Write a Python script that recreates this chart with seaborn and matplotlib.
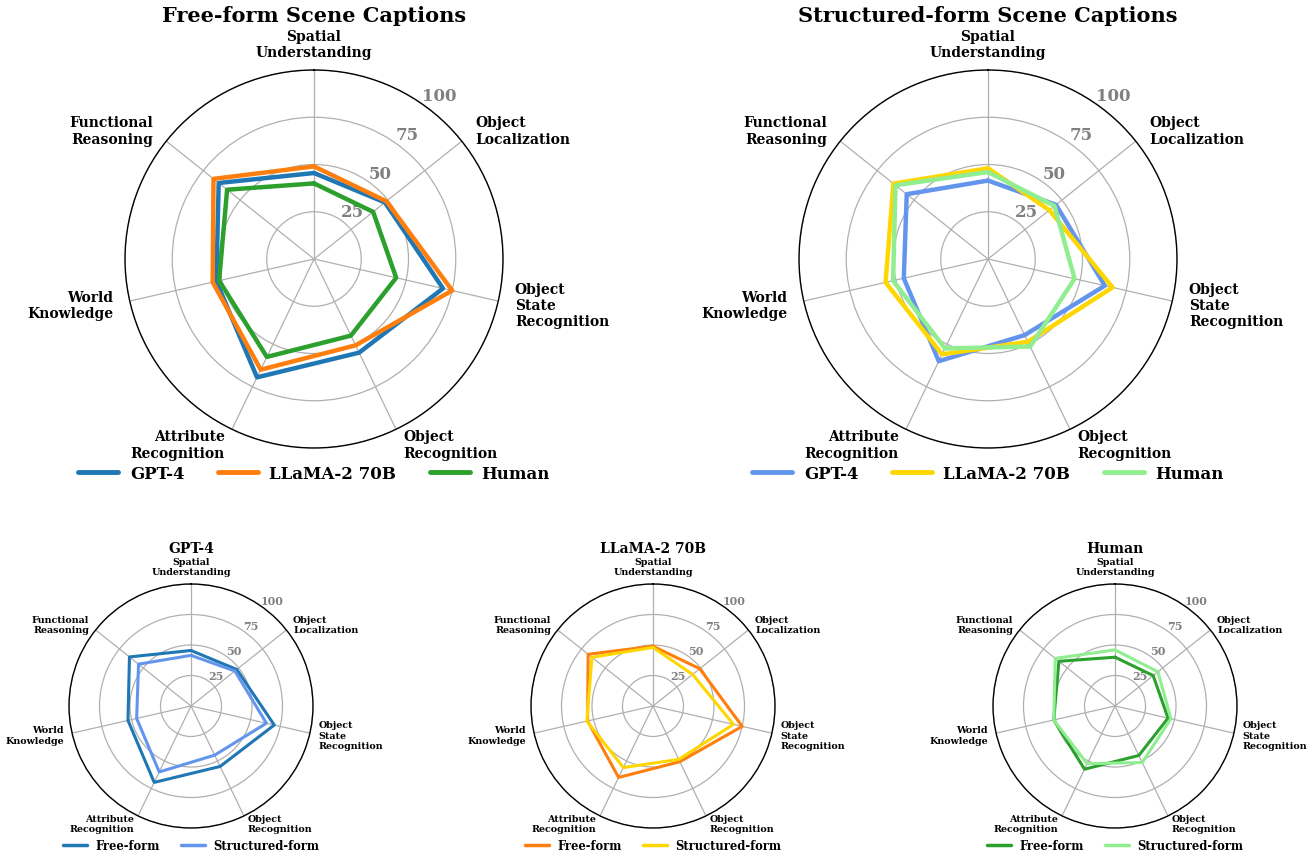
import numpy as np
import pandas as pd
import matplotlib
matplotlib.use("Agg")
import matplotlib.pyplot as plt
import seaborn as sns
from matplotlib.lines import Line2D

sns.set_theme(style="white")
plt.rcParams['font.family'] = ['DejaVu Serif']
plt.rcParams['font.weight'] = 'bold'
plt.rcParams['text.color'] = 'black'

categories = ["Spatial\nUnderstanding", "Object\nLocalization", "Object\nState\nRecognition",
              "Object\nRecognition", "Attribute\nRecognition", "World\nKnowledge",
              "Functional\nReasoning"]

gpt4_free = [45.5, 48, 70, 55, 69.5, 53, 64.5]
llama_free = [49, 49, 75, 50.7, 65, 55, 68]
human_free = [40, 40, 44.6, 45, 57.5, 51.5, 58.8]

gpt4_struct = [41.5, 46, 63.4, 44.7, 60, 45.7, 55]
llama_struct = [48, 41.5, 67.6, 48.6, 56, 55.6, 64]
human_struct = [46, 45, 47, 51.4, 52.5, 51.5, 62.6]

rticks = [25, 50, 75, 100]
rtick_labels = ["25", "50", "75", "100"]

N = len(categories)
angles = np.linspace(0, 2 * np.pi, N, endpoint=False)

fig = plt.figure(figsize=(13.13, 8.53), dpi=100)


def setup(ax, cat_size, r_size, off, top_off):
    ax.set_theta_offset(np.pi / 2)
    ax.set_theta_direction(-1)
    ax.set_ylim(0, 100)
    ax.set_xticks(angles)
    ax.set_xticklabels([])
    for lab, ang in zip(categories, angles):
        phi = np.pi / 2 - ang
        if np.isclose(ang, 0):
            ha, va = 'center', 'bottom'
            dx, dy = 0, top_off
        else:
            ha = 'left' if ang < np.pi else 'right'
            va = 'center'
            dx, dy = off * np.cos(phi), off * np.sin(phi)
        ax.annotate(lab, xy=(ang, 100), xycoords='data', xytext=(dx, dy),
                    textcoords='offset pixels', ha=ha, va=va,
                    fontsize=cat_size, fontweight='bold', color='black',
                    annotation_clip=False)
    ax.set_yticks(rticks)
    ax.set_yticklabels(rtick_labels, fontsize=r_size, fontweight='bold', color='grey')
    ax.set_rlabel_position(35)
    ax.grid(True, color='#b0b0b0', linewidth=0.9)
    ax.spines['polar'].set_color('black')
    ax.spines['polar'].set_linewidth(1.0)
    ax.set_facecolor('white')


def draw(ax, values, color, lw, label):
    th = list(angles) + [angles[0]]
    vv = list(values) + [values[0]]
    df = pd.DataFrame({"theta": th, "value": vv})
    sns.lineplot(data=df, x="theta", y="value", ax=ax, sort=False, color=color,
                 linewidth=lw, label=label, legend=False, estimator=None)
    ax.set_xlabel("")
    ax.set_ylabel("")


W, H = 1313, 853
def rect(cx, cy, r):
    return [(cx - r) / W, 1 - (cy + r) / H, 2 * r / W, 2 * r / H]

# ---- top panels ----
R_top = 189
top_specs = [
    (314, "Free-form Scene Captions",
     [(gpt4_free, '#1f77b4', 'GPT-4'), (llama_free, '#ff7f0e', 'LLaMA-2 70B'), (human_free, '#2ca02c', 'Human')]),
    (988, "Structured-form Scene Captions",
     [(gpt4_struct, 'cornflowerblue', 'GPT-4'), (llama_struct, 'gold', 'LLaMA-2 70B'), (human_struct, 'lightgreen', 'Human')]),
]
for cx, title, series in top_specs:
    ax = fig.add_axes(rect(cx, 260, R_top), projection='polar')
    setup(ax, 10, 12, 17, 11)
    for vals, col, lab in series:
        draw(ax, vals, col, 3.2, lab)
    ax.set_title(title, fontsize=15, fontweight='bold', pad=35, y=1.0, color='black')
    handles = [Line2D([0], [0], color=c, lw=3.5) for _, c, _ in series]
    ax.legend(handles, [l for _, _, l in series], loc='upper center',
              bbox_to_anchor=(0.5, -0.005), ncol=3, frameon=False,
              prop={'family': 'DejaVu Serif', 'weight': 'bold', 'size': 12},
              handlelength=2.4, handletextpad=0.7, columnspacing=2.0)

# ---- bottom panels ----
R_bot = 122
bot_specs = [
    (191, "GPT-4", gpt4_free, gpt4_struct, '#1f77b4', 'cornflowerblue'),
    (653, "LLaMA-2 70B", llama_free, llama_struct, '#ff7f0e', 'gold'),
    (1115, "Human", human_free, human_struct, '#2ca02c', 'lightgreen'),
]
for cx, title, fv, sv, c1, c2 in bot_specs:
    ax = fig.add_axes(rect(cx, 707, R_bot), projection='polar')
    setup(ax, 6.8, 8, 8.5, 8)
    draw(ax, fv, c1, 2.2, 'Free-form')
    draw(ax, sv, c2, 2.2, 'Structured-form')
    ax.set_title(title, fontsize=10, fontweight='bold', pad=23, y=1.0, color='black')
    handles = [Line2D([0], [0], color=c1, lw=2.5), Line2D([0], [0], color=c2, lw=2.5)]
    ax.legend(handles, ['Free-form', 'Structured-form'], loc='upper center',
              bbox_to_anchor=(0.5, -0.012), ncol=2, frameon=False,
              prop={'family': 'DejaVu Serif', 'weight': 'bold', 'size': 8.3},
              handlelength=2.1, handletextpad=0.7, columnspacing=1.8,
              borderpad=0.2)

fig.savefig("out.png", dpi=100, facecolor='white')
